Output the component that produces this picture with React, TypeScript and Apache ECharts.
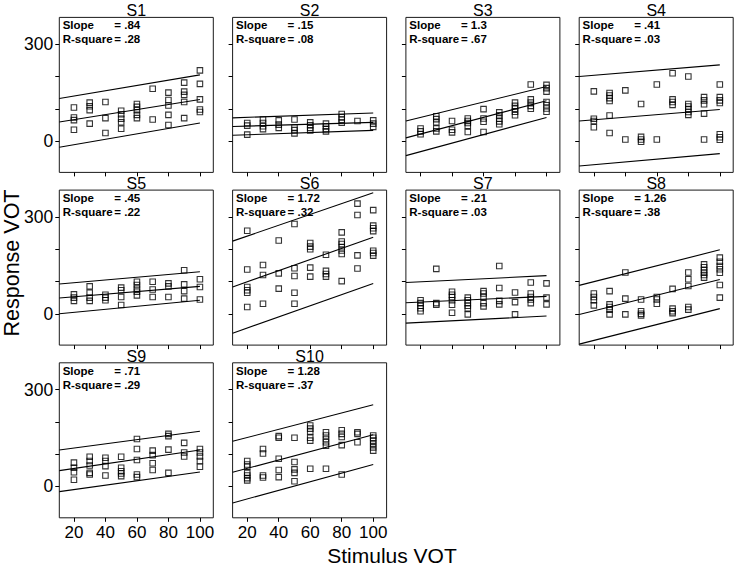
import React, { useEffect, useRef } from "react";
import * as echarts from "echarts";

const SUBJECTS = ["S1", "S2", "S3", "S4", "S5", "S6", "S7", "S8", "S9", "S10"];
const SLOPES = [".84", ".15", "1.3", ".41", ".45", "1.72", ".21", "1.26", ".71", "1.28"];
const RSQ = [".28", ".08", ".67", ".03", ".22", ".32", ".03", ".38", ".29", ".37"];
const STIM = [20, 30, 40, 50, 60, 70, 80, 90, 100];
const X_TICKS = [20, 40, 60, 80, 100];
const Y_TICKS = [0, 100, 200, 300];
const Y_LABELS = [0, 300];

// Response VOT per stimulus level, per subject
const S1 = [[104, 73, 65, 35], [119, 108, 96, 54], [121, 71, 25], [94, 83, 69, 58, 38], [115, 106, 96, 81, 71], [162, 67], [150, 127, 110, 81, 50], [181, 153, 143, 121, 71], [219, 177, 129, 98, 90]];
const S2 = [[56, 48, 20], [67, 56, 46, 37], [64, 51, 41], [67, 42, 34, 24], [58, 49, 41, 33], [54, 45, 37, 30], [84, 74, 66, 57], [62], [64, 54, 44]];
const S3 = [[39, 30, 21], [77, 68, 58, 39, 30], [62, 35, 27], [70, 62, 56, 47, 28], [99, 70, 60, 28], [89, 80, 70, 61, 52], [119, 109, 100, 91, 80], [175, 129, 119, 109, 100], [174, 164, 153, 121, 111, 101, 91]];
const S4 = [[154, 69, 62, 43], [149, 141, 133, 124, 79, 25], [157, 5], [115, 13, 5, -2], [175, 5], [210, 129, 121, 112], [200, 115, 107, 99, 90, 81], [136, 126, 114, 85, 5], [175, 136, 126, 118, 21, 12, 4]];
const S5 = [[60, 50, 40], [85, 65, 50, 40], [59, 50, 42], [81, 73, 52, 27], [99, 89, 78, 68, 57], [99, 75, 52], [94, 85, 52], [135, 91, 70, 47], [107, 83, 44]];
const S6 = [[257, 137, 83, 73, 65, 21], [151, 120, 31], [227, 125, 78], [278, 141, 117, 65, 31], [219, 208, 200, 143, 115], [183, 133, 123, 115], [252, 224, 216, 206, 196, 185, 101], [341, 306, 181, 140], [321, 273, 265, 256, 195, 188, 180]];
const S7 = [[42, 33, 25, 17, 8], [139, 33, 28], [68, 59, 52, 42, 28, 3], [50, 42, 33, 25, 17, -2], [70, 63, 52, 33, 23], [148, 80, 40, 29], [66, 36, -2], [97, 63, 52, 44, 33], [94, 50, 29]];
const S8 = [[63, 52, 42, 26], [70, 29, 21, 13, -2], [128, 47, -2], [44, 8, 0, -5], [52, 44, 31], [77, 16, 8, 2], [128, 107, 86, 21, 13], [153, 144, 135, 127, 120, 112], [174, 161, 148, 138, 127, 89, 50]];
const S9 = [[74, 58, 44, 21], [92, 79, 65, 42, 37], [89, 79, 63, 34], [92, 58, 47, 40, 32], [147, 116, 82, 37, 29], [111, 97, 72, 51], [163, 156, 114, 42], [135, 105, 93], [116, 105, 93, 79, 61]];
const S10 = [[79, 68, 61, 42, 34, 26, 19], [116, 102, 34, 28], [156, 151, 86, 51, 29], [151, 76, 53, 42, 16], [189, 179, 170, 151, 142, 55], [168, 158, 147, 137, 126, 55], [174, 163, 153, 128, 37], [168, 163, 137], [158, 151, 142, 132, 121, 111]];
const RESPONSES = [S1, S2, S3, S4, S5, S6, S7, S8, S9, S10];

// Fit line and prediction band: value at the left edge of the axis and at stimulus 100
const FIT_L = [59, 45, 10, 62, 49, 83, 34, -2, 49, 44];
const FIT_R = [129, 58, 125, 98, 85, 237, 54, 106, 113, 160];
const UPPER_L = [132, 72, 62, 200, 92, 225, 97, 88, 113, 140];
const UPPER_R = [205, 87, 169, 236, 130, 375, 118, 198, 171, 253];
const LOWER_L = [-19, 18, -45, -77, 0, -60, -29, -94, -16, -51];
const LOWER_R = [56, 33, 73, -39, 42, 94, -7, 16, 45, 68];

const X_MIN = 10.7;
const X_MAX = 108.5;
const Y_MIN = -97;
const Y_MAX = 383;

const FONT = "'Liberation Sans', Arial, sans-serif";

export default function App() {
  const ref = useRef<HTMLDivElement>(null);

  useEffect(() => {
    document.body.style.margin = "0";
    if (!ref.current) return;
    const chart = echarts.init(ref.current, undefined, { renderer: "svg" });

    const grids: any[] = [];
    const xAxes: any[] = [];
    const yAxes: any[] = [];
    const series: any[] = [];
    const graphics: any[] = [];

    const W = 154;
    const H = 155;

    SUBJECTS.forEach((name, i) => {
      const r = Math.floor(i / 4);
      const c = i % 4;
      const left = 59.3 + c * 173.3;
      const top = 17.4 + r * 172.7;
      grids.push({
        left,
        top,
        width: W,
        height: H,
        show: true,
        borderColor: "#1a1a1a",
        borderWidth: 1,
        backgroundColor: "#fff",
      });
      xAxes.push({
        gridIndex: i,
        type: "value",
        position: "bottom",
        min: X_MIN,
        max: X_MAX,
        axisLine: { show: false, onZero: false },
        splitLine: { show: false },
        axisTick: {
          show: true,
          inside: false,
          customValues: X_TICKS,
          length: 4,
          lineStyle: { color: "#000", width: 1 },
        },
        axisLabel: {
          show: i >= 8,
          inside: false,
          customValues: X_TICKS,
          fontSize: 17,
          color: "#000",
          margin: 6,
          fontFamily: FONT,
        },
      });
      yAxes.push({
        gridIndex: i,
        type: "value",
        position: "left",
        min: Y_MIN,
        max: Y_MAX,
        axisLine: { show: false, onZero: false },
        splitLine: { show: false },
        axisTick: {
          show: true,
          inside: false,
          customValues: Y_TICKS,
          length: 4,
          lineStyle: { color: "#000", width: 1 },
        },
        axisLabel: {
          show: c === 0,
          inside: false,
          customValues: Y_LABELS,
          fontSize: 17.5,
          color: "#000",
          margin: 6,
          fontFamily: FONT,
        },
      });

      const pts: number[][] = [];
      RESPONSES[i].forEach((vals, k) => {
        vals.forEach((v) => pts.push([STIM[k], v]));
      });
      series.push({
        type: "scatter",
        xAxisIndex: i,
        yAxisIndex: i,
        data: pts,
        symbol: "rect",
        symbolSize: 5.5,
        silent: true,
        itemStyle: { color: "rgba(0,0,0,0)", borderColor: "#000", borderWidth: 1.1 },
        z: 3,
      });
      const lineDefs = [
        [UPPER_L[i], UPPER_R[i]],
        [FIT_L[i], FIT_R[i]],
        [LOWER_L[i], LOWER_R[i]],
      ];
      lineDefs.forEach(([a, b]) => {
        series.push({
          type: "line",
          xAxisIndex: i,
          yAxisIndex: i,
          data: [
            [X_MIN, a],
            [STIM[STIM.length - 1], b],
          ],
          symbol: "none",
          silent: true,
          lineStyle: { color: "#000", width: 1.1 },
          z: 2,
        });
      });

      graphics.push({
        type: "text",
        x: left + W / 2,
        y: top - 6.5,
        z: 10,
        style: {
          text: name,
          fill: "#000",
          fontSize: 16,
          fontFamily: FONT,
          align: "center",
          verticalAlign: "middle",
          textAlign: "center",
          textVerticalAlign: "middle",
        },
      });
      const statStyle = {
        fill: "#000",
        fontSize: 11.5,
        fontWeight: "bold",
        fontFamily: FONT,
        verticalAlign: "middle",
        textVerticalAlign: "middle",
      };
      graphics.push({ type: "text", x: left + 3.4, y: top + 7.7, z: 10, style: { ...statStyle, text: "Slope" } });
      graphics.push({ type: "text", x: left + 3.4, y: top + 21.7, z: 10, style: { ...statStyle, text: "R-square" } });
      graphics.push({ type: "text", x: left + 55, y: top + 7.7, z: 10, style: { ...statStyle, text: "= " + SLOPES[i] } });
      graphics.push({ type: "text", x: left + 55, y: top + 21.7, z: 10, style: { ...statStyle, text: "= " + RSQ[i] } });
    });

    graphics.push({
      type: "text",
      x: 392,
      y: 555,
      z: 10,
      style: {
        text: "Stimulus VOT",
        fill: "#000",
        fontSize: 21,
        fontFamily: FONT,
        align: "center",
        verticalAlign: "middle",
        textAlign: "center",
        textVerticalAlign: "middle",
      },
    });
    graphics.push({
      type: "text",
      x: 12,
      y: 263,
      rotation: Math.PI / 2,
      z: 10,
      style: {
        text: "Response VOT",
        fill: "#000",
        fontSize: 21.5,
        fontFamily: FONT,
        align: "center",
        verticalAlign: "middle",
        textAlign: "center",
        textVerticalAlign: "middle",
      },
    });

    chart.setOption({
      animation: false,
      backgroundColor: "#fff",
      grid: grids,
      xAxis: xAxes,
      yAxis: yAxes,
      series,
      graphic: { elements: graphics },
    });

    return () => chart.dispose();
  }, []);

  return <div ref={ref} style={{ width: 737, height: 567 }} />;
}
